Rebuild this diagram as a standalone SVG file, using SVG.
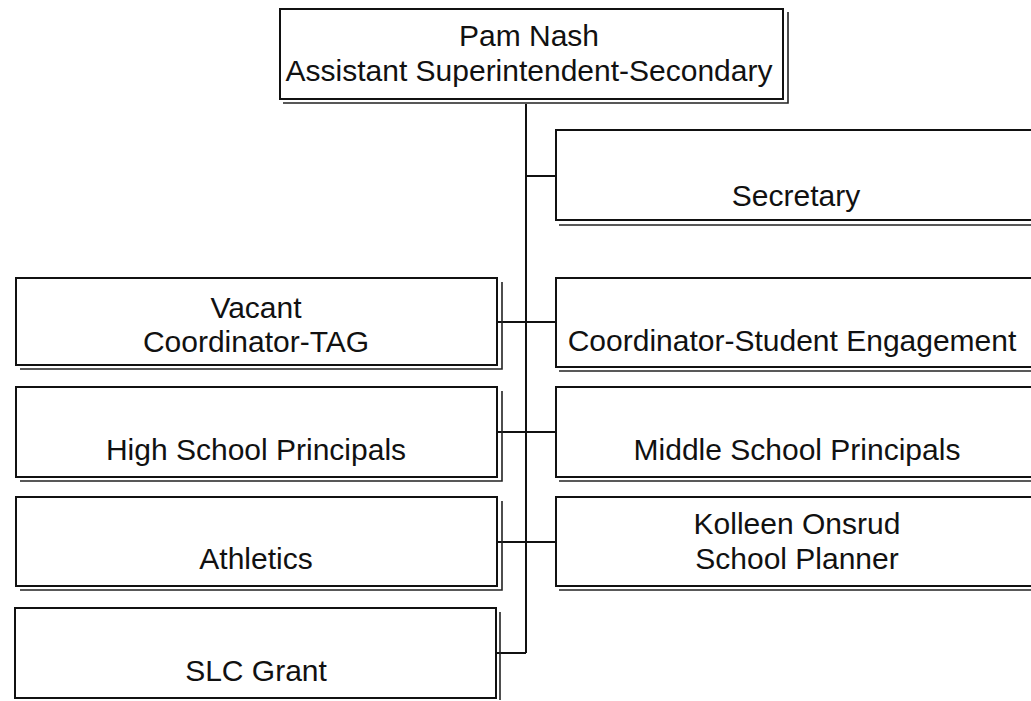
<svg xmlns="http://www.w3.org/2000/svg" width="1031" height="701" viewBox="0 0 1031 701">
  <style>
    .box { fill: #ffffff; stroke: #111111; stroke-width: 2; }
    .shadow { fill: none; stroke: #222222; stroke-width: 1.6; }
    .conn { fill: none; stroke: #111111; stroke-width: 2; }
    text { font-family: "Liberation Sans", Arial, sans-serif; font-size: 30px; fill: #111111; text-anchor: middle; }
  </style>
  <rect x="0" y="0" width="1031" height="701" fill="#ffffff"/>

  <g id="connectors">
    <path class="conn" d="M526 104 V653"/>
    <path class="conn" d="M526 176 H556"/>
    <path class="conn" d="M497 322 H556"/>
    <path class="conn" d="M497 432 H556"/>
    <path class="conn" d="M497 542 H556"/>
    <path class="conn" d="M497 653 H526"/>
  </g>

  <g id="node-pam-nash">
    <rect class="box" x="280" y="9" width="503" height="90"/>
    <path class="shadow" d="M283 103 H788 V12"/>
    <text x="529" y="46">Pam Nash</text>
    <text x="529" y="81">Assistant Superintendent-Secondary</text>
  </g>

  <g id="node-secretary">
    <rect class="box" x="556" y="130" width="500" height="90"/>
    <path class="shadow" d="M559 225 H1040"/>
    <text x="796" y="206">Secretary</text>
  </g>

  <g id="node-coordinator-student-engagement">
    <rect class="box" x="556" y="278" width="500" height="89"/>
    <path class="shadow" d="M559 371 H1040"/>
    <text x="792" y="351">Coordinator-Student Engagement</text>
  </g>

  <g id="node-middle-school">
    <rect class="box" x="556" y="387" width="500" height="90"/>
    <path class="shadow" d="M559 481 H1040"/>
    <text x="797" y="460">Middle School Principals</text>
  </g>

  <g id="node-kolleen-onsrud">
    <rect class="box" x="556" y="497" width="500" height="89"/>
    <path class="shadow" d="M559 590 H1040"/>
    <text x="797" y="534">Kolleen Onsrud</text>
    <text x="797" y="569">School Planner</text>
  </g>

  <g id="node-vacant-tag">
    <rect class="box" x="16" y="278" width="481" height="87"/>
    <path class="shadow" d="M20 369 H502 V282"/>
    <text x="256" y="318">Vacant</text>
    <text x="256" y="352">Coordinator-TAG</text>
  </g>

  <g id="node-high-school">
    <rect class="box" x="16" y="387" width="481" height="90"/>
    <path class="shadow" d="M20 481 H502 V391"/>
    <text x="256" y="460">High School Principals</text>
  </g>

  <g id="node-athletics">
    <rect class="box" x="16" y="497" width="481" height="89"/>
    <path class="shadow" d="M20 590 H502 V501"/>
    <text x="256" y="569">Athletics</text>
  </g>

  <g id="node-slc-grant">
    <rect class="box" x="15" y="608" width="481" height="90"/>
    <path class="shadow" d="M500 612 V700"/>
    <text x="256" y="681">SLC Grant</text>
  </g>
</svg>
